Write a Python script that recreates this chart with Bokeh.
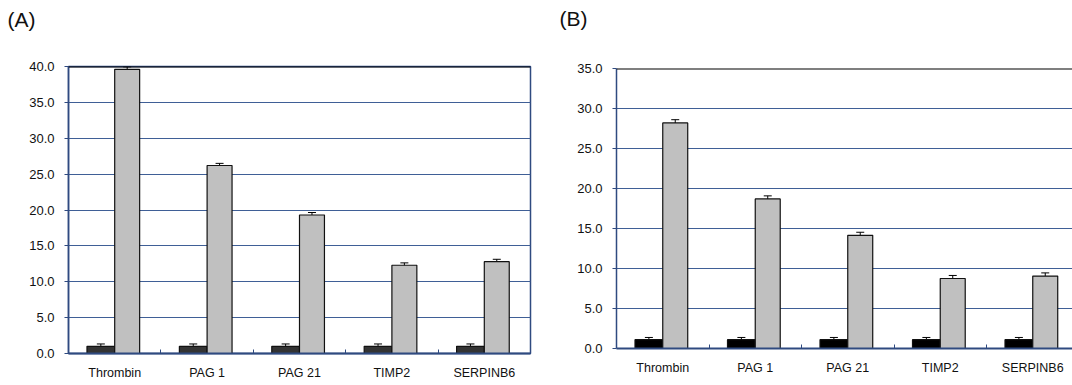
from bokeh.plotting import figure
from bokeh.models import (ColumnDataSource, Range1d, FixedTicker, NumeralTickFormatter,
                          Whisker, TeeHead, Span, Title)
from bokeh.transform import dodge
from bokeh.layouts import row, column
from bokeh.embed import file_html
from bokeh.resources import INLINE

categories = ["Thrombin", "PAG 1", "PAG 21", "TIMP2", "SERPINB6"]

a_control = [1.0, 1.0, 1.0, 1.0, 1.0]
a_control_err = [0.33, 0.33, 0.33, 0.33, 0.33]
a_treated = [39.6, 26.2, 19.3, 12.3, 12.8]
a_treated_err = [0.35, 0.3, 0.35, 0.33, 0.33]

b_control = [1.1, 1.1, 1.1, 1.1, 1.1]
b_control_err = [0.28, 0.28, 0.28, 0.28, 0.28]
b_treated = [28.2, 18.7, 14.15, 8.75, 9.05]
b_treated_err = [0.4, 0.38, 0.38, 0.38, 0.4]

a_yticks = [0, 5, 10, 15, 20, 25, 30, 35, 40]
b_yticks = [0, 5, 10, 15, 20, 25, 30, 35]

FONT = "Liberation Sans"
GRID = "#3f5f96"
AXIS = "#2f4a80"


def panel(tag, ctrl, ctrl_err, trt, trt_err, yticks, ctrl_color, width, height,
          left, right, top, bottom, x_end, outline, tag_offset, spacer_size, label_standoff):
    n = len(categories)
    src = ColumnDataSource(dict(
        x=[i + 0.5 for i in range(n)],
        ctrl=ctrl,
        ctrl_lo=[v - e for v, e in zip(ctrl, ctrl_err)],
        ctrl_hi=[v + e for v, e in zip(ctrl, ctrl_err)],
        trt=trt,
        trt_lo=[v - e for v, e in zip(trt, trt_err)],
        trt_hi=[v + e for v, e in zip(trt, trt_err)],
    ))
    ymax = yticks[-1]
    p = figure(width=width, height=height, x_range=Range1d(0, x_end), y_range=Range1d(0, ymax),
               output_backend="svg", toolbar_location=None, tools="",
               min_border_left=left, min_border_right=right,
               min_border_top=top, min_border_bottom=bottom)
    p.background_fill_color = "white"
    p.border_fill_color = "white"
    if outline:
        p.outline_line_color = AXIS
        p.outline_line_width = 1.5
    else:
        p.outline_line_color = None

    p.vbar(x=dodge("x", -0.15), width=0.30, top="ctrl", bottom=0, source=src,
           fill_color=ctrl_color, line_color="#111111", line_width=1.2)
    p.vbar(x=dodge("x", 0.135), width=0.27, top="trt", bottom=0, source=src,
           fill_color="#c0c0c0", line_color="#111111", line_width=1.2)

    for base, lo, hi in ((dodge("x", -0.15), "ctrl_lo", "ctrl_hi"),
                         (dodge("x", 0.135), "trt_lo", "trt_hi")):
        w = Whisker(base=base, lower=lo, upper=hi, source=src, line_color="black", line_width=1,
                    upper_head=TeeHead(size=8, line_color="black", line_width=1),
                    lower_head=TeeHead(size=8, line_color="black", line_width=1))
        p.add_layout(w)

    p.add_layout(Span(location=ymax, dimension="width", line_color="black", line_width=2))

    # axes
    p.xgrid.visible = False
    p.ygrid.ticker = FixedTicker(ticks=yticks[1:-1])
    p.ygrid.grid_line_color = GRID
    p.ygrid.grid_line_width = 1

    p.yaxis.ticker = FixedTicker(ticks=yticks)
    p.yaxis.formatter = NumeralTickFormatter(format="0.0")
    p.yaxis.axis_line_color = AXIS
    p.yaxis.axis_line_width = 1.5
    p.yaxis.major_tick_line_color = AXIS
    p.yaxis.major_tick_out = 4
    p.yaxis.major_tick_in = 0
    p.yaxis.minor_tick_line_color = None
    p.yaxis.major_label_standoff = 10
    p.yaxis.major_label_text_font = FONT
    p.yaxis.major_label_text_font_size = "13px"
    p.yaxis.major_label_text_color = "#111111"

    centers = [i + 0.5 for i in range(n)]
    p.xaxis.ticker = FixedTicker(ticks=centers, minor_ticks=[i for i in range(1, n)])
    p.xaxis.major_label_overrides = {c: lab for c, lab in zip(centers, categories)}
    p.xaxis.axis_line_color = AXIS
    p.xaxis.axis_line_width = 2
    p.xaxis.major_tick_line_color = None
    p.xaxis.major_tick_out = 0
    p.xaxis.major_tick_in = 0
    p.xaxis.minor_tick_line_color = AXIS
    p.xaxis.minor_tick_in = 4
    p.xaxis.minor_tick_out = 0
    p.xaxis.major_label_standoff = label_standoff
    p.xaxis.major_label_text_font = FONT
    p.xaxis.major_label_text_font_size = "12.5px"
    p.xaxis.major_label_text_color = "#111111"

    # spacer panel first (closest to the frame), then the panel tag above it
    spacer = Title(text=" ", standoff=0, text_font=FONT, text_font_size=spacer_size,
                   text_color="white")
    tag_title = Title(text=tag, align="left", offset=tag_offset, standoff=0,
                      vertical_align="top",
                      text_font=FONT, text_font_size="21px", text_font_style="normal",
                      text_color="#111111")
    p.add_layout(spacer, "above")
    p.add_layout(tag_title, "above")
    return p


pa = panel("(A)", a_control, a_control_err, a_treated, a_treated_err, a_yticks, "#333333",
           width=540, height=385, left=68, right=10, top=66, bottom=32, x_end=5, outline=True,
           tag_offset=-61, spacer_size="29px", label_standoff=12)
pb = panel("(B)", b_control, b_control_err, b_treated, b_treated_err, b_yticks, "#000000",
           width=532, height=385, left=76, right=0, top=68, bottom=37, x_end=456 / 92.5,
           outline=False, tag_offset=-57, spacer_size="31px", label_standoff=12)

layout = row(column(pa), column(pb))
open("out.html", "w").write(file_html(layout, INLINE))
